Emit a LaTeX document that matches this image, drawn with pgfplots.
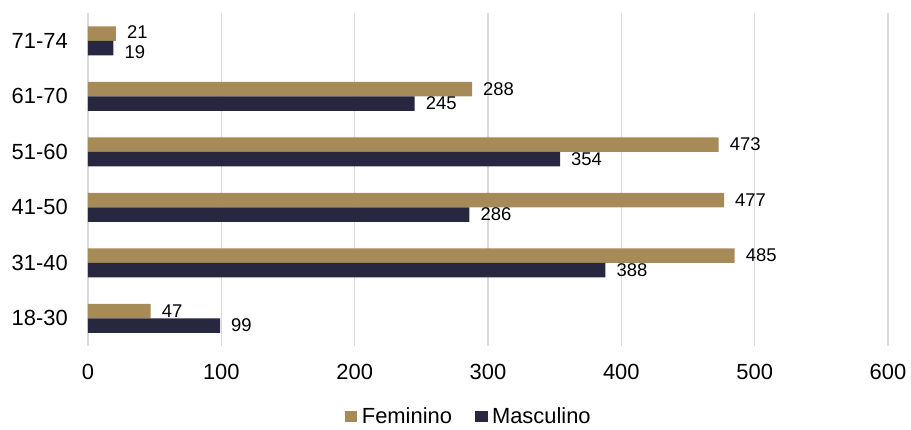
\documentclass[border=0pt]{standalone}
\usepackage{pgfplots}
\pgfplotsset{compat=1.18}
\usepackage{fontspec}
\setmainfont{Liberation Sans}
\definecolor{fem}{HTML}{A68B58}
\definecolor{masc}{HTML}{272740}
\definecolor{gridc}{HTML}{D9D9D9}
\begin{document}
\begin{tikzpicture}
\begin{axis}[
  scale only axis, width=800bp, height=333bp,
  xmin=0, xmax=600, ymin=-0.5, ymax=5.5,
  xbar, bar width=14.5bp,
  axis line style={draw=none},
  xtick={0,100,...,600}, ytick={0,...,5},
  yticklabels={18-30,31-40,41-50,51-60,61-70,71-74},
  xmajorgrids, grid style={color=gridc, line width=1.3bp},
  major tick length=0pt,
  /pgf/number format/assume math mode=true,
  xticklabel style={font=\fontsize{22}{25}\selectfont, inner sep=0pt, yshift=-18bp},
  yticklabel style={font=\fontsize{22}{25}\selectfont, inner sep=0pt, xshift=-20bp},
  nodes near coords,
  visualization depends on={rawy \as \yv},
  every node near coord/.append style={font=\fontsize{18.5}{21}\selectfont, anchor=west, inner sep=0pt, xshift=11bp, color=black},
  legend style={at={(0.476,-0.212)}, anchor=center, draw=none, legend columns=2,
    font=\fontsize{22}{25}\selectfont, /tikz/every even column/.append style={column sep=21bp}},
  legend image code/.code={\fill[#1] (0bp,-5.5bp) rectangle (12.5bp,5.5bp); \path (15bp,0bp);},
]
\addplot[fill=fem, draw=none, bar shift=7.25bp,
  every node near coord/.append style={yshift={ifthenelse(\yv==5,1.5,0)}}]
  coordinates {(47,0) (485,1) (477,2) (473,3) (288,4) (21,5)};
\addplot[fill=masc, draw=none, bar shift=-7.25bp,
  every node near coord/.append style={yshift={ifthenelse(\yv==5,-4.5,0)}}]
  coordinates {(99,0) (388,1) (286,2) (354,3) (245,4) (19,5)};
\legend{Feminino, Masculino}
\end{axis}
\path[use as bounding box] (-88bp,-79bp) rectangle (823bp,346bp);
\end{tikzpicture}
\end{document}
